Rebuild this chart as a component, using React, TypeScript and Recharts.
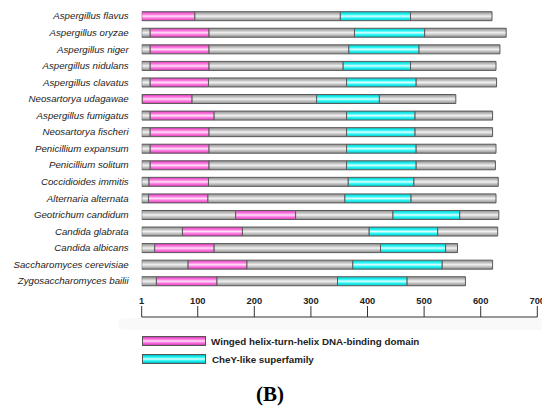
import React from 'react';
import { BarChart, Bar, XAxis, YAxis } from 'recharts';

const species = [
  'Aspergillus flavus',
  'Aspergillus oryzae',
  'Aspergillus niger',
  'Aspergillus nidulans',
  'Aspergillus clavatus',
  'Neosartorya udagawae',
  'Aspergillus fumigatus',
  'Neosartorya fischeri',
  'Penicillium expansum',
  'Penicillium solitum',
  'Coccidioides immitis',
  'Alternaria alternata',
  'Geotrichum candidum',
  'Candida glabrata',
  'Candida albicans',
  'Saccharomyces cerevisiae',
  'Zygosaccharomyces bailii',
];
const wingedStart = [1, 16, 16, 16, 16, 2, 16, 16, 16, 16, 14, 13, 167, 73, 24, 83, 27];
const wingedEnd = [95, 120, 120, 120, 119, 90, 129, 120, 120, 120, 119, 118, 273, 179, 129, 187, 134];
const cheyStart = [352, 377, 367, 357, 363, 310, 363, 363, 363, 363, 366, 360, 445, 403, 423, 374, 347];
const cheyEnd = [476, 501, 491, 476, 486, 421, 484, 484, 486, 486, 482, 477, 563, 524, 538, 532, 470];
const proteinLength = [620, 645, 634, 627, 628, 556, 621, 621, 627, 626, 631, 627, 632, 630, 559, 621, 573];
const xTicks = [1, 100, 200, 300, 400, 500, 600, 700];
const legendLabels = ['Winged helix-turn-helix DNA-binding domain', 'CheY-like superfamily'];

const data = species.map((name, i) => ({
  name,
  g0: wingedStart[i],
  winged: wingedEnd[i] - wingedStart[i],
  g1: cheyStart[i] - wingedEnd[i],
  chey: cheyEnd[i] - cheyStart[i],
  g2: proteinLength[i] - cheyEnd[i],
}));

const font = "'Liberation Sans', Arial, sans-serif";
const pinkCss = 'linear-gradient(#d83ab6 0%, #ff7ee2 30%, #ffe2f8 50%, #ff7ee2 70%, #d83ab6 100%)';
const cyanCss = 'linear-gradient(#00c4c4 0%, #2ff8f8 30%, #e2ffff 50%, #2ff8f8 70%, #00c0c0 100%)';

const Grad = ({ id, edge, mid, center }: { id: string; edge: string; mid: string; center: string }) => (
  <linearGradient id={id} x1="0" y1="0" x2="0" y2="1">
    <stop offset="0%" stopColor={edge} />
    <stop offset="30%" stopColor={mid} />
    <stop offset="50%" stopColor={center} />
    <stop offset="70%" stopColor={mid} />
    <stop offset="100%" stopColor={edge} />
  </linearGradient>
);

const SpeciesTick = (props: any) => {
  const { x, y, payload } = props;
  return (
    <text x={x} y={y} dy="0.35em" textAnchor="end" fill="#222" fontSize={9.7} fontStyle="italic" fontFamily={font}>
      {payload.value}
    </text>
  );
};

export default function App() {
  return (
    <div style={{ position: 'absolute', left: 0, top: 0, width: 542, height: 408, background: '#fff', overflow: 'hidden' }}>
      <div style={{ position: 'absolute', left: 118, top: 318, width: 430, height: 12, background: '#f9f9f9', borderRadius: 6 }} />
      <div style={{ position: 'absolute', left: 0, top: 0 }}>
        <BarChart
          width={542}
          height={408}
          data={data}
          layout="vertical"
          margin={{ top: 7.7, right: 4.7, bottom: 91, left: 0 }}
          barSize={9}
        >
          <defs>
            <Grad id="gGrey" edge="#8e8e8e" mid="#c6c6c6" center="#f2f2f2" />
            <Grad id="gPink" edge="#d83ab6" mid="#ff7ee2" center="#ffe2f8" />
            <Grad id="gCyan" edge="#00c4c4" mid="#2ff8f8" center="#e2ffff" />
          </defs>
          <XAxis
            type="number"
            domain={[1, 700]}
            allowDataOverflow
            ticks={xTicks}
            interval={0}
            orientation="bottom"
            mirror
            height={28}
            tickSize={11}
            tickMargin={2}
            stroke="#333"
            tick={{ fill: '#222', fontSize: 9.3, fontWeight: 'bold', fontFamily: font }}
          />
          <YAxis
            type="category"
            dataKey="name"
            width={141.7}
            interval={0}
            axisLine={false}
            tickLine={false}
            tickSize={0}
            tickMargin={13}
            padding={{ top: 0, bottom: 27.7 }}
            tick={<SpeciesTick />}
          />
          <Bar dataKey="g0" stackId="a" fill="url(#gGrey)" stroke="#5a5a5a" strokeWidth={1} isAnimationActive={false} />
          <Bar dataKey="winged" stackId="a" fill="url(#gPink)" stroke="#5a5a5a" strokeWidth={1} isAnimationActive={false} />
          <Bar dataKey="g1" stackId="a" fill="url(#gGrey)" stroke="#5a5a5a" strokeWidth={1} isAnimationActive={false} />
          <Bar dataKey="chey" stackId="a" fill="url(#gCyan)" stroke="#5a5a5a" strokeWidth={1} isAnimationActive={false} />
          <Bar dataKey="g2" stackId="a" fill="url(#gGrey)" stroke="#5a5a5a" strokeWidth={1} isAnimationActive={false} />
        </BarChart>
      </div>
      {legendLabels.map((label, i) => (
        <div key={label} style={{ position: 'absolute', left: 142, top: 336 + i * 18, height: 10, display: 'flex', alignItems: 'center' }}>
          <div style={{ width: 62, height: 8, background: i === 0 ? pinkCss : cyanCss, border: '1px solid #555' }} />
          <span style={{ marginLeft: i === 0 ? 5 : 6, fontFamily: font, fontWeight: 'bold', fontSize: 9.8, color: '#222', whiteSpace: 'nowrap' }}>{label}</span>
        </div>
      ))}
      <div style={{ position: 'absolute', left: 0, width: 542, top: 382, textAlign: 'center', fontFamily: "'Liberation Serif', 'Times New Roman', serif", fontWeight: 'bold', fontSize: 21, color: '#000' }}>
        <span style={{ position: 'relative', left: -1 }}>(B)</span>
      </div>
    </div>
  );
}
